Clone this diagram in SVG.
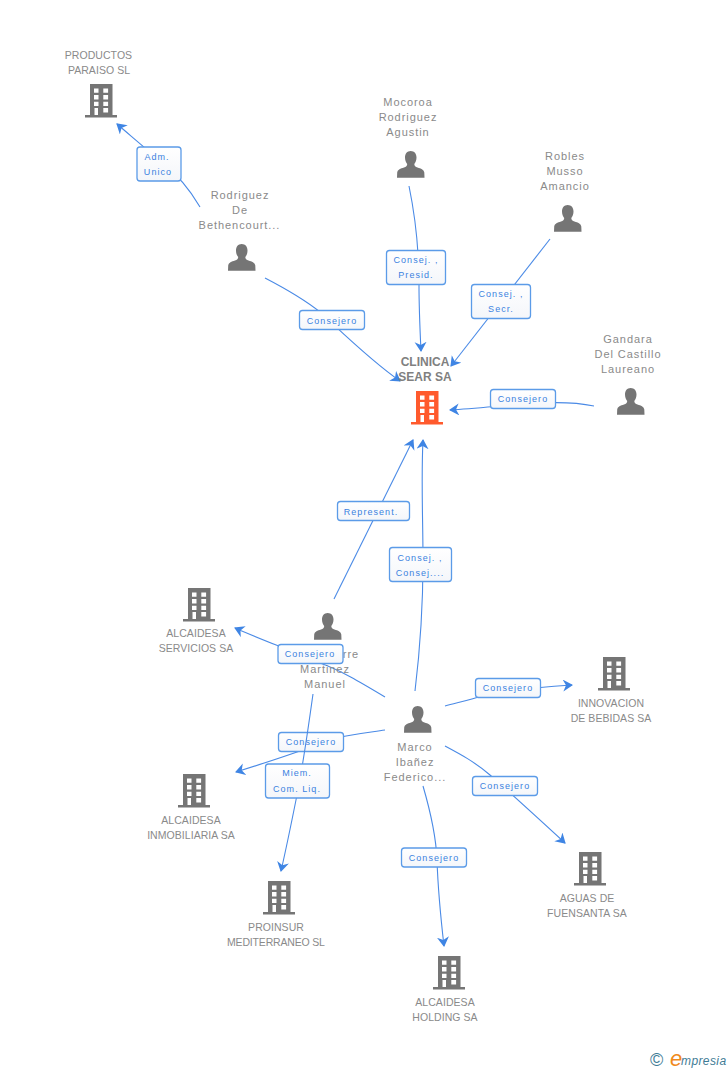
<svg xmlns="http://www.w3.org/2000/svg" width="728" height="1070" viewBox="0 0 728 1070">
<style>
text{font-family:"Liberation Sans",Arial,sans-serif}
.n{font-size:11px;fill:#8a8a8a;text-anchor:middle}
.p{letter-spacing:.95px}
.c{letter-spacing:.05px;font-size:10.5px}
.m{font-size:12px;font-weight:700;fill:#808080;text-anchor:middle}
.l{font-size:9px;fill:#3b82e0;text-anchor:middle;letter-spacing:1.05px}
.b{fill:url(#g);stroke:#5b9be8;stroke-width:1.3}
.e{fill:none;stroke:#4a8ae6;stroke-width:1.1}
</style>
<defs>
<linearGradient id="g" x1="0" y1="0" x2="0" y2="1"><stop offset="0" stop-color="#fff"/><stop offset="1" stop-color="#f4f6fa"/></linearGradient>
<marker id="a" markerUnits="userSpaceOnUse" markerWidth="14" markerHeight="14" refX="9" refY="6" orient="auto"><path d="M0 0L10 6L0 12L3 6Z" fill="#3f85e4"/></marker>
<symbol id="bld" overflow="visible"><path fill="currentColor" d="M5 0H27.500V31H32V33.500H0V31H5Z"/><path fill="#fff" d="M9 4.500h4.500v4.300H9zM18.300 4.500h4.800v4.300h-4.800zM9 11h4.500v4.400H9zM18.300 11h4.800v4.400h-4.800zM9 17.700h4.500v4.300H9zM18.300 17.700h4.800v4.300h-4.800zM9.500 24h3.500v7H9.500zM18.300 24h4.800v4.500h-4.800z"/></symbol>
<symbol id="per" overflow="visible"><path fill="#757575" d="M13.700 0C17.300 0 19.500 2.800 19.500 6.500C19.500 9.500 18.500 11.500 17.300 13C17.300 15 18.500 15.800 20.500 16.500C24 17.700 26.800 18.500 27.300 21.500L27.500 26.700H0L.2 21.500C.7 18.500 3.500 17.700 7 16.500C9 15.800 10.200 15 10.200 13C9 11.500 8 9.500 8 6.500C8 2.800 10.100 0 13.700 0Z"/></symbol>
</defs>
<g id="connectors">
<path class="e" marker-end="url(#a)" d="M200 207C190 190 178 175 163 164C148 150 132 137 117 124"/>
<path class="e" marker-end="url(#a)" d="M265 278C290 291 305 300 320 312C345 335 370 360 400 381"/>
<path class="e" marker-end="url(#a)" d="M409 186C416 220 419 250 419 285C419 310 420 330 421 351"/>
<path class="e" marker-end="url(#a)" d="M550 239L451 366"/>
<path class="e" marker-end="url(#a)" d="M594 406C575 402 560 402 540 403C510 405 480 408 450 410"/>
<path class="e" marker-end="url(#a)" d="M334 599L413 440"/>
<path class="e" marker-end="url(#a)" d="M415 691C420 650 423 610 423 560C423 520 421 480 423 440"/>
<path class="e" marker-end="url(#a)" d="M385 697C360 682 340 670 320 663C290 650 262 640 235 628"/>
<path class="e" marker-end="url(#a)" d="M445 706C460 702 470 700 485 695C510 690 540 687 572 685"/>
<path class="e" marker-end="url(#a)" d="M385 730C365 733 350 735 335 738C300 752 268 762 236 772"/>
<path class="e" marker-end="url(#a)" d="M445 746C460 754 475 762 490 775C515 797 540 820 565 843"/>
<path class="e" marker-end="url(#a)" d="M423 786C430 810 436 835 437 860C438 890 441 920 444 946"/>
</g>
<g id="n-productos" color="#757575"><use href="#bld" x="85" y="84"/><text class="n c" x="98.500" y="59">PRODUCTOS</text><text class="n c" x="99" y="74">PARAISO SL</text></g>
<g id="n-clinica" color="#ff5a2d"><use href="#bld" x="411" y="391"/><text class="m" x="425" y="366">CLINICA</text><text class="m" x="425" y="381">SEAR SA</text></g>
<g id="n-servicios" color="#757575"><use href="#bld" x="183" y="588"/><text class="n c" x="196" y="637">ALCAIDESA</text><text class="n c" x="196" y="652">SERVICIOS SA</text></g>
<g id="n-innovacion" color="#757575"><use href="#bld" x="598" y="657"/><text class="n c" x="611" y="707">INNOVACION</text><text class="n c" x="611" y="722">DE BEBIDAS SA</text></g>
<g id="n-inmobiliaria" color="#757575"><use href="#bld" x="178" y="774"/><text class="n c" x="191" y="824">ALCAIDESA</text><text class="n c" x="191" y="839">INMOBILIARIA SA</text></g>
<g id="n-proinsur" color="#757575"><use href="#bld" x="263" y="881"/><text class="n c" x="276" y="931">PROINSUR</text><text class="n c" x="276" y="946" textLength="98">MEDITERRANEO SL</text></g>
<g id="n-aguas" color="#757575"><use href="#bld" x="574" y="852"/><text class="n c" x="587" y="902">AGUAS DE</text><text class="n c" x="587" y="917">FUENSANTA SA</text></g>
<g id="n-holding" color="#757575"><use href="#bld" x="433" y="956"/><text class="n c" x="445" y="1006">ALCAIDESA</text><text class="n c" x="445" y="1021">HOLDING SA</text></g>
<g id="n-rodriguez"><use href="#per" x="228" y="244"/><text class="n p" x="240" y="199">Rodriguez</text><text class="n p" x="240" y="214">De</text><text class="n p" x="239.500" y="229">Bethencourt...</text></g>
<g id="n-mocoroa"><use href="#per" x="397" y="151"/><text class="n p" x="408" y="106">Mocoroa</text><text class="n p" x="408" y="121">Rodriguez</text><text class="n p" x="408" y="136">Agustin</text></g>
<g id="n-robles"><use href="#per" x="554" y="205"/><text class="n p" x="565" y="160">Robles</text><text class="n p" x="565" y="175">Musso</text><text class="n p" x="565" y="190">Amancio</text></g>
<g id="n-gandara"><use href="#per" x="617" y="388"/><text class="n p" x="628" y="343">Gandara</text><text class="n p" x="628" y="358">Del Castillo</text><text class="n p" x="628" y="373">Laureano</text></g>
<g id="n-manuel"><use href="#per" x="314" y="613"/><text class="n p" x="351" y="658">rre</text><text class="n p" x="325" y="673">Martinez</text><text class="n p" x="325" y="688">Manuel</text></g>
<g id="n-marco"><use href="#per" x="404" y="706"/><text class="n p" x="415" y="751">Marco</text><text class="n p" x="415" y="766">Ibañez</text><text class="n p" x="415" y="781">Federico...</text></g>
<g id="label-under"><rect class="b" x="278.500" y="732.500" width="65" height="19" rx="3"/><text class="l" x="311" y="745">Consejero</text></g>
<g id="connector-over"><path class="e" marker-end="url(#a)" d="M313 694C308 730 303 765 297 795C292 820 287 845 281 871"/></g>
<g id="labels">
<g><rect class="b" x="137" y="147" width="44" height="34" rx="3"/><text class="l" x="157" y="160">Adm.</text><text class="l" x="158" y="175">Unico</text></g>
<g><rect class="b" x="299.500" y="310.500" width="65" height="19" rx="3"/><text class="l" x="332" y="324">Consejero</text></g>
<g><rect class="b" x="386.500" y="250.500" width="59" height="34" rx="3"/><text class="l" x="416" y="263">Consej. ,</text><text class="l" x="416" y="278">Presid.</text></g>
<g><rect class="b" x="471.500" y="284.500" width="59" height="34" rx="3"/><text class="l" x="501" y="297">Consej. ,</text><text class="l" x="501" y="312">Secr.</text></g>
<g><rect class="b" x="490.500" y="389.500" width="65" height="19" rx="3"/><text class="l" x="523" y="402">Consejero</text></g>
<g><rect class="b" x="337.500" y="501.500" width="72" height="19" rx="3"/><text class="l" x="371" y="515">Represent.</text></g>
<g><rect class="b" x="389.500" y="547.500" width="62" height="34" rx="3"/><text class="l" x="420" y="561">Consej. ,</text><text class="l" x="420" y="576">Consej....</text></g>
<g><rect class="b" x="278" y="644.500" width="65" height="19" rx="3"/><text class="l" x="310" y="657">Consejero</text></g>
<g><rect class="b" x="265.500" y="764" width="64" height="34" rx="3"/><text class="l" x="297" y="776">Miem.</text><text class="l" x="297" y="792">Com. Liq.</text></g>
<g><rect class="b" x="475.500" y="678.500" width="65" height="19" rx="3"/><text class="l" x="508" y="691">Consejero</text></g>
<g><rect class="b" x="472.500" y="776.500" width="65" height="19" rx="3"/><text class="l" x="505" y="789">Consejero</text></g>
<g><rect class="b" x="401.500" y="848" width="65" height="19" rx="3"/><text class="l" x="434" y="861">Consejero</text></g>
</g>
<g id="logo"><text x="650" y="1066" font-size="18" fill="#3f7c96">©</text><text x="670" y="1066" font-size="22" font-style="italic" fill="#f08a1d">e</text><text x="681" y="1065" font-size="12" font-style="italic" fill="#3f7c96" letter-spacing=".4">mpresia</text></g>
</svg>
